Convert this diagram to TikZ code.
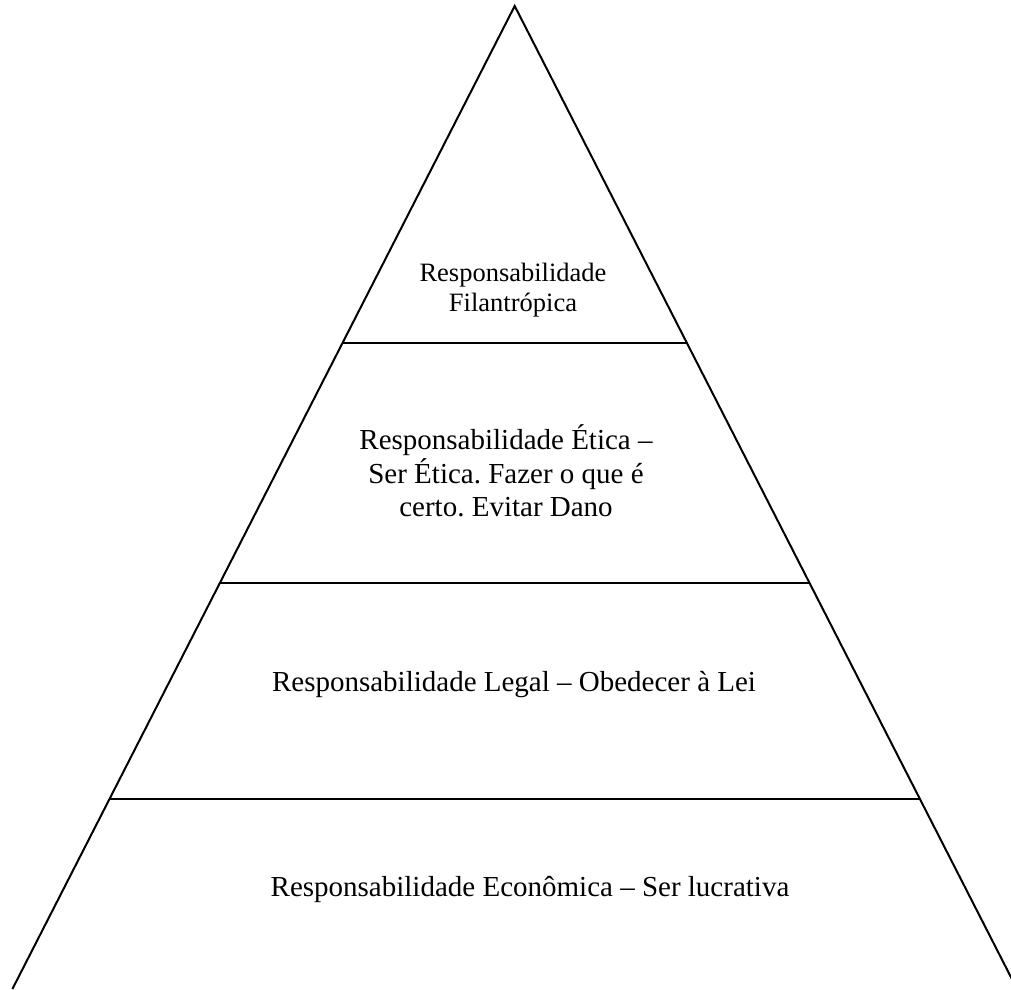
\documentclass[tikz,border=0pt]{standalone}
\usepackage{fontspec}
\setmainfont{Liberation Serif}
\usetikzlibrary{calc}
\begin{document}
\frenchspacing
\begin{tikzpicture}[x=1pt,y=-1pt,
  edge/.style={line width=2pt, line join=miter},
  tier/.style={line width=2.6pt},
  lbl/.style={inner sep=0pt, anchor=base, align=center, font=\fontsize{29}{33.7}\selectfont\frenchspacing},
  toplbl/.style={inner sep=0pt, anchor=base, align=center, font=\fontsize{26.5}{30}\selectfont\frenchspacing}]
\useasboundingbox (0,0) rectangle (1011,989);
\clip (0,0) rectangle (1011,989);
\coordinate (apex) at (514.7,6);
\coordinate (bl) at (12.4,989);
\coordinate (br) at (1017,989);
\draw[edge] (bl) -- (apex) -- (br);
\coordinate (l1) at ($(apex)!0.34283!(bl)$);
\coordinate (r1) at ($(apex)!0.34283!(br)$);
\coordinate (l2) at ($(apex)!0.58698!(bl)$);
\coordinate (r2) at ($(apex)!0.58698!(br)$);
\coordinate (l3) at ($(apex)!0.80671!(bl)$);
\coordinate (r3) at ($(apex)!0.80671!(br)$);
\draw[tier] (l1) -- (r1);
\draw[tier] (l2) -- (r2);
\draw[tier] (l3) -- (r3);
\node[toplbl] (fil) at (513,311.7) {Responsabilidade\\Filantrópica};
\node[lbl] (eti) at (506,516.7) {Responsabilidade Ética –\\Ser Ética. Fazer o que é\\certo. Evitar Dano};
\node[lbl] (leg) at (514,691.7) {Responsabilidade Legal – Obedecer à Lei};
\node[lbl] (eco) at (530,896.7) {Responsabilidade Econômica – Ser lucrativa};
\end{tikzpicture}
\end{document}
